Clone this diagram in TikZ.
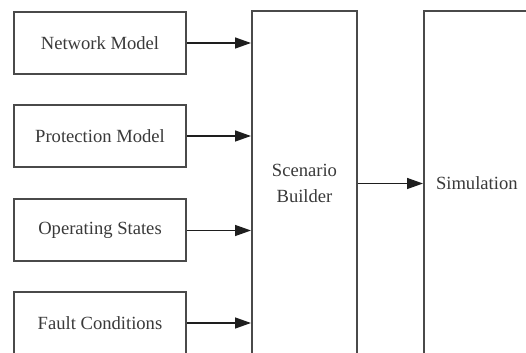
\documentclass[tikz,border=0pt]{standalone}
\usepackage{fontspec}
\setmainfont{Liberation Serif}
\usetikzlibrary{arrows.meta}

\definecolor{boxgray}{HTML}{4A4A4A}
\definecolor{textgray}{HTML}{3A3A3A}
\definecolor{linegray}{HTML}{1E1E1E}

\tikzset{
    block/.style={draw=boxgray, line width=1pt, fill=white, inner sep=0pt,
        text=textgray, font=\fontsize{9.3}{13}\selectfont},
    inbox/.style={block, minimum width=86pt, minimum height=31pt},
    tallbox/.style={block, minimum height=172pt},
    feed/.style={draw=linegray, line width=0.7pt,
        -{Triangle[length=8pt, width=5.5pt]}}
}

\begin{document}
\begin{tikzpicture}[x=0.5pt, y=-0.5pt]
    \path[use as bounding box, clip] (0,0) rectangle (526,353);

    % Draw nodes
    \node[inbox] (net) at (100, 43) {Network Model};
    \node[inbox] (prot) at (100, 136) {Protection Model};
    \node[inbox] (oper) at (100, 230.5) {Operating States};
    \node[inbox] (fault) at (100, 323) {Fault Conditions};
    \node[tallbox, minimum width=52.5pt, align=center] (builder) at (304.5, 183.5) {Scenario\\Builder};
    \node[tallbox, text width=59pt, inner xsep=6pt, align=left, anchor=west] (sim) at (423, 183.5) {Simulation};

    % Draw edges
    \draw[feed] (net.east) -- (net -| builder.west);
    \draw[feed] (prot.east) -- (prot -| builder.west);
    \draw[feed] (oper.east) -- (oper -| builder.west);
    \draw[feed] (fault.east) -- (fault -| builder.west);
    \draw[feed] (builder.east) -- (sim.west);
\end{tikzpicture}
\end{document}
